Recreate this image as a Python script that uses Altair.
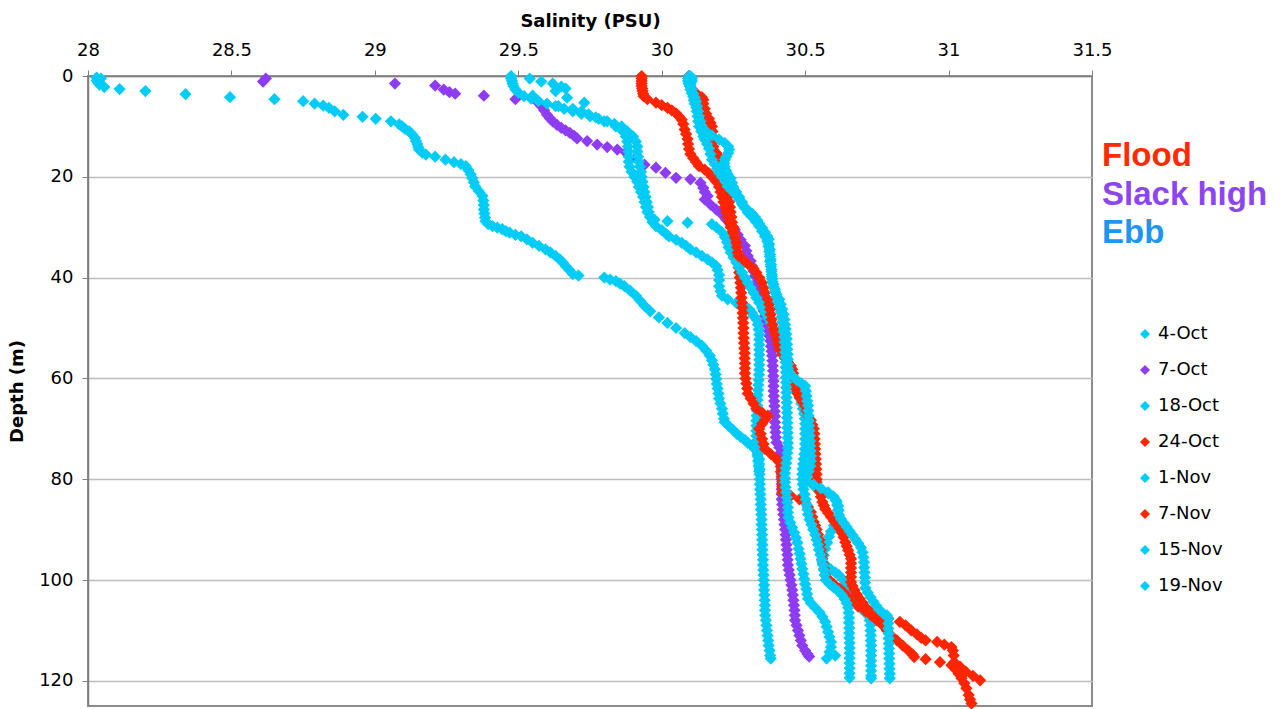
import altair as alt
import pandas as pd

# CTD casts: (depth m, salinity PSU) pairs per survey day
cast_names = ["4-Oct", "7-Oct", "18-Oct", "24-Oct", "1-Nov", "7-Nov", "15-Nov", "19-Nov"]
cast_colors = ["#00CCF5", "#8E3CF2", "#00CCF5", "#FF2500", "#00CCF5", "#FF2500", "#00CCF5", "#00CCF5"]

x_ticks = [28, 28.5, 29, 29.5, 30, 30.5, 31, 31.5]
y_ticks = [0, 20, 40, 60, 80, 100, 120]

tide_labels = ["Flood", "Slack high", "Ebb"]
tide_colors = ["#FF2A00", "#8C46F0", "#1E96F0"]

oct04 = [(0.3,28.03),(0.5,28.045),(0.9,28.03),(1.3,28.035),(1.7,28.04),(2.2,28.057),(2.6,28.11),(3.0,28.20),(3.6,28.34),(4.2,28.495),(4.6,28.65),(5.0,28.75),(5.5,28.79),(5.9,28.82),(6.3,28.84),(7.0,28.86),(7.7,28.89),(8.1,28.957),(8.5,29.003),(9.0,29.056),(9.6,29.085),(10.0,29.095),(10.5,29.105),(11.0,29.12),(11.6,29.13),(12.3,29.14),(12.9,29.143),(13.5,29.148),(14.1,29.151),(14.6,29.154),(15.2,29.165),(15.6,29.178),(16.0,29.21),(16.6,29.246),(17.1,29.276),(17.5,29.30),(17.9,29.317),(18.7,29.326),(19.5,29.334),(20.3,29.34),(21.1,29.345),(21.9,29.35),(22.8,29.362),(23.8,29.375),(24.7,29.378),(25.6,29.38),(26.5,29.38),(27.3,29.382),(28.1,29.384),(28.8,29.386),(29.4,29.395),(29.8,29.41),(30.1,29.427),(30.4,29.444),(30.8,29.457),(31.1,29.47),(31.5,29.49),(31.8,29.51),(32.4,29.53),(33.1,29.55),(33.7,29.572),(34.4,29.595),(35.0,29.612),(35.7,29.63),(36.4,29.645),(37.0,29.655),(37.7,29.665),(38.5,29.678),(39.3,29.69),(39.6,29.71),(40.0,29.80),(40.4,29.82),(40.7,29.84),(41.2,29.855),(41.7,29.87),(42.6,29.89),(43.6,29.91),(44.6,29.925),(45.6,29.94),(46.7,29.96),(47.9,29.99),(49.0,30.02),(50.0,30.05),(51.0,30.08),(51.8,30.10),(52.6,30.12),(53.5,30.14),(54.5,30.155),(55.5,30.168),(56.4,30.175),(57.3,30.18),(58.2,30.185),(59.2,30.188),(60.1,30.19),(61.1,30.192),(62.0,30.195),(63.0,30.198),(64.0,30.20),(65.0,30.205),(66.0,30.21),(67.0,30.213),(68.0,30.217),(68.7,30.22),(69.5,30.235),(70.3,30.25),(71.0,30.262),(71.6,30.275),(72.2,30.29),(72.8,30.30),(73.4,30.315),(74.0,30.325),(75.0,30.335),(76.0,30.34),(77,30.34),(78,30.341),(79,30.341),(80,30.342),(81,30.342),(82,30.343),(83,30.344),(84,30.345),(85,30.345),(86,30.346),(87,30.347),(88,30.348),(89,30.348),(90,30.349),(91,30.35),(92,30.35),(93,30.351),(94,30.351),(95,30.352),(96,30.353),(97,30.353),(98,30.354),(99,30.355),(100,30.356),(101,30.357),(102,30.357),(103,30.358),(104,30.359),(105,30.36),(106,30.36),(107,30.361),(108,30.363),(109,30.365),(110,30.367),(111,30.369),(112,30.371),(113,30.373),(114,30.376),(115,30.378),(115.6,30.38)]

oct07 = [(0.5,28.62),(1.1,28.61),(1.5,29.07),(1.9,29.21),(2.7,29.24),(3.2,29.26),(3.5,29.28),(3.9,29.38),(4.6,29.49),(4.8,29.56),(5.4,29.575),(6.0,29.58),(6.8,29.59),(7.7,29.60),(8.4,29.61),(9.0,29.62),(9.7,29.635),(10.3,29.65),(10.8,29.665),(11.3,29.68),(11.9,29.695),(12.4,29.705),(12.9,29.74),(13.6,29.775),(14.1,29.81),(14.6,29.845),(15.2,29.875),(16.2,29.91),(17.6,29.94),(18.2,29.98),(19.2,30.013),(20.2,30.05),(20.5,30.10),(21.2,30.135),(22.2,30.145),(23.0,30.15),(23.8,30.16),(24.5,30.15),(25.5,30.17),(26.5,30.19),(27.5,30.21),(28.5,30.225),(29.5,30.24),(30.5,30.255),(31.5,30.265),(32.5,30.275),(33.7,30.29),(34.7,30.295),(35.7,30.30),(36.7,30.31),(37.7,30.315),(38.7,30.32),(39.7,30.325),(41.0,30.33),(42.3,30.335),(43.6,30.34),(44.6,30.345),(45.6,30.35),(46.6,30.355),(47.6,30.36),(48.6,30.365),(49.6,30.37),(50.6,30.373),(51.6,30.376),(52.6,30.379),(53.6,30.381),(54.6,30.383),(55.5,30.385),(56.5,30.386),(57.5,30.387),(58.5,30.388),(59.5,30.389),(60.5,30.39),(61.5,30.39),(62.5,30.39),(63.5,30.391),(64.5,30.392),(65.5,30.393),(66.5,30.394),(67.5,30.395),(68.7,30.395),(69.7,30.396),(70.7,30.397),(71.7,30.398),(72.7,30.40),(73.7,30.41),(74.7,30.415),(75.7,30.418),(77,30.418),(78,30.418),(79,30.418),(80,30.418),(81,30.418),(82,30.418),(83,30.418),(84,30.418),(85,30.42),(86,30.422),(87,30.424),(88,30.426),(89,30.428),(90,30.43),(91,30.432),(92,30.433),(93,30.435),(94,30.436),(95,30.438),(96,30.439),(97,30.44),(98,30.443),(99,30.446),(100,30.449),(101,30.452),(102,30.455),(103,30.457),(104,30.459),(105,30.461),(106,30.463),(107,30.464),(108,30.465),(109,30.47),(110,30.475),(111,30.48),(112,30.485),(113,30.49),(114,30.50),(114.7,30.508),(115.2,30.514)]

oct18 = [(0.0,29.475),(0.5,29.475),(1.0,29.478),(1.5,29.48),(2.0,29.483),(2.7,29.49),(3.3,29.50),(4.0,29.52),(4.5,29.545),(5.0,29.57),(5.5,29.60),(6.0,29.63),(6.5,29.66),(7.0,29.69),(7.5,29.72),(8.0,29.75),(8.5,29.78),(9.0,29.81),(9.5,29.835),(10.0,29.86),(11.0,29.88),(12.0,29.90),(13.0,29.91),(14.0,29.915),(15.0,29.915),(16.0,29.918),(17.0,29.92),(18.0,29.924),(19.0,29.928),(20.0,29.93),(21.0,29.933),(22.0,29.937),(23.0,29.94),(24.0,29.944),(25.0,29.948),(26.0,29.952),(27.0,29.955),(28.0,29.96),(29.0,29.968),(29.8,29.98),(30.6,30.0),(31.3,30.015),(31.8,30.025),(32.5,30.05),(33.1,30.07),(33.7,30.085),(34.4,30.10),(35.0,30.12),(35.7,30.14),(36.4,30.16),(37.0,30.175),(37.7,30.19),(38.5,30.195),(39.5,30.20),(40.5,30.20),(41.7,30.20),(42.7,30.205),(43.6,30.21),(44.3,30.23),(45.0,30.26),(45.6,30.29),(46.3,30.305),(47.0,30.315),(47.6,30.32),(48.3,30.33),(49.3,30.335),(50.3,30.338),(51.3,30.34),(52.3,30.34),(53.3,30.34),(54.3,30.34),(55.3,30.34),(56.3,30.34),(57.3,30.34),(58.3,30.34),(59.3,30.339),(60.3,30.338),(61.3,30.337),(62.3,30.336),(63.3,30.335),(64.3,30.334),(65.4,30.333),(66.4,30.332),(67.4,30.331),(68.4,30.33),(69.4,30.33),(70.4,30.33),(71.4,30.33),(72.4,30.33),(73.4,30.331),(74.4,30.332),(75.4,30.334),(76.4,30.336),(77.4,30.338),(78.4,30.34),(80.6,30.505),(81.3,30.53),(82.0,30.556),(82.8,30.58),(83.6,30.60),(84.4,30.61),(85.3,30.615),(86.2,30.617),(87.2,30.617),(88.2,30.61),(89.2,30.60),(90.4,30.59),(91.4,30.583),(92.6,30.577),(93.8,30.57),(95.1,30.565),(96.4,30.56),(97.2,30.575),(97.9,30.59),(98.5,30.605),(99.0,30.617),(99.8,30.63),(100.8,30.643),(101.8,30.655),(102.8,30.665),(103.9,30.676),(105.0,30.686),(105.9,30.70),(106.5,30.71),(107.0,30.72),(108,30.725),(109,30.727),(110,30.728),(111,30.729),(112,30.729),(113,30.73),(114,30.73),(115,30.73),(116,30.73),(117,30.73),(118,30.73),(119,30.73),(119.5,30.73)]

oct24 = [(0,29.93),(0.5,29.93),(1,29.93),(1.5,29.93),(2,29.93),(2.5,29.932),(3,29.933),(3.5,29.935),(4,29.937),(4.6,29.95),(5.3,29.98),(5.8,30.0),(6.3,30.02),(6.8,30.035),(7.4,30.05),(8,30.06),(8.7,30.07),(9.5,30.075),(10.6,30.08),(11.5,30.085),(12.5,30.09),(13.5,30.092),(14.5,30.095),(15.5,30.10),(16.3,30.11),(17.1,30.12),(17.9,30.13),(18.6,30.15),(19.3,30.165),(20,30.175),(21,30.19),(22,30.20),(23,30.205),(24,30.21),(25,30.215),(26,30.22),(27,30.225),(28,30.23),(29,30.235),(30,30.24),(31,30.245),(32,30.25),(33,30.255),(34,30.26),(35,30.263),(36,30.265),(37,30.267),(38,30.268),(39,30.27),(40,30.272),(41,30.274),(42,30.276),(43,30.277),(44,30.278),(45,30.28),(46,30.281),(47,30.282),(48,30.283),(49,30.284),(50,30.285),(51,30.285),(52,30.286),(53,30.287),(54,30.288),(55,30.289),(56,30.289),(57,30.29),(58,30.29),(59,30.29),(60,30.292),(61,30.295),(62,30.298),(63,30.30),(64,30.31),(65,30.32),(66,30.33),(66.8,30.35),(67.4,30.37),(68.2,30.36),(69,30.35),(70,30.34),(71,30.345),(72,30.35),(73,30.355),(74,30.36),(75,30.38),(76,30.40),(76.6,30.41),(77.5,30.415),(78.5,30.415),(79.5,30.418),(80.5,30.42),(81.5,30.42),(82.6,30.42),(83.3,30.45),(84,30.48),(84.6,30.50),(85.5,30.51),(86.5,30.52),(87.5,30.525),(88.5,30.53),(89.2,30.535),(90,30.54),(91,30.545),(92,30.55),(93,30.552),(94,30.555),(95,30.558),(95.8,30.56),(96.8,30.563),(97.8,30.566),(99,30.57),(100,30.585),(100.8,30.60),(101.7,30.62),(102.5,30.635),(103.4,30.65),(104.4,30.66),(105.3,30.685),(106.2,30.71),(107,30.73),(108,30.75),(109,30.77),(110,30.785),(111,30.80),(112,30.82),(113,30.84),(114,30.86),(114.8,30.875),(115.3,30.88),(115.7,30.92),(116.3,30.97),(116.9,31.01),(117.8,31.025),(118.6,31.035),(119.5,31.045),(120.5,31.055),(121.5,31.062),(122.8,31.07),(123.7,31.075),(124.5,31.08)]

nov01 = [(0.5,29.54),(1.1,29.58),(1.5,29.62),(2.1,29.65),(2.5,29.665),(3.0,29.63),(3.9,29.55),(4.3,29.67),(5.3,29.73),(6.0,29.64),(6.5,29.69),(7.0,29.72),(7.6,29.745),(8.2,29.77),(9.0,29.80),(10.0,29.84),(11.0,29.865),(12.0,29.875),(13.0,29.88),(14.0,29.882),(15.0,29.884),(16.0,29.885),(17.0,29.885),(18.0,29.888),(19.0,29.895),(20.0,29.905),(21.0,29.915),(22.0,29.92),(23.0,29.928),(24.0,29.935),(25.0,29.94),(26.0,29.945),(27.0,29.95),(28.0,29.96),(28.5,29.975),(28.8,30.02),(29.1,30.09),(29.4,30.175),(30.0,30.19),(31.0,30.21),(32.0,30.22),(33.0,30.228),(34.0,30.233),(35.0,30.24),(36.0,30.25),(37.0,30.26),(38.0,30.27),(39.0,30.28),(40.0,30.29),(41.0,30.30),(42.0,30.31),(43.0,30.32),(44.0,30.33),(45.0,30.34),(46.0,30.35),(47.0,30.36),(48.0,30.37),(49.0,30.38),(50.0,30.39),(51.0,30.40),(52.0,30.405),(53.0,30.41),(54.0,30.415),(55.0,30.42),(56.0,30.43),(57.0,30.44),(58.0,30.45),(59.0,30.458),(60.0,30.462),(61.0,30.467),(62.0,30.472),(63.0,30.477),(64.0,30.482),(65.0,30.487),(66.0,30.492),(67.0,30.496),(68.0,30.499),(69.0,30.50),(70.0,30.50),(71.0,30.50),(72.0,30.50),(73.0,30.50),(74.0,30.499),(75.0,30.497),(76.0,30.495),(77.0,30.493),(78.0,30.491),(79.0,30.49),(80.0,30.49),(81.0,30.491),(82.0,30.494),(83.0,30.498),(84.0,30.502),(85.0,30.505),(86.0,30.508),(87.0,30.51),(88.0,30.515),(89.0,30.522),(90.0,30.528),(91.0,30.535),(92.0,30.54),(93.0,30.545),(94.0,30.548),(95.0,30.553),(96.0,30.558),(97.0,30.562),(98.0,30.565),(99.0,30.568),(100.0,30.572),(100.8,30.585),(101.5,30.60),(102.2,30.615),(103.0,30.628),(103.8,30.638),(104.6,30.645),(105.5,30.65),(106.5,30.652),(107.5,30.653),(108.5,30.653),(109.5,30.654),(110.5,30.654),(111.5,30.654),(112.5,30.655),(113.5,30.655),(114.5,30.655),(115.5,30.655),(116.5,30.655),(117.5,30.655),(118.5,30.655),(119.4,30.655)]

nov07 = [(0,30.094),(0.5,30.095),(1,30.096),(1.5,30.098),(2,30.10),(2.7,30.105),(3.4,30.12),(4.2,30.14),(4.7,30.145),(5.5,30.145),(6.5,30.15),(7.5,30.155),(8.5,30.165),(9.3,30.17),(10,30.175),(11,30.177),(12,30.178),(13,30.18),(14,30.18),(14.6,30.18),(15.3,30.19),(16,30.20),(17,30.205),(18,30.21),(19,30.212),(20,30.215),(21,30.218),(22,30.22),(23,30.225),(24,30.23),(25,30.235),(26,30.238),(27,30.24),(28,30.243),(29,30.245),(30,30.25),(31,30.253),(32,30.256),(33,30.26),(34,30.263),(35,30.265),(35.7,30.268),(36.5,30.285),(37.3,30.30),(38.2,30.32),(39,30.33),(40,30.34),(41,30.35),(42,30.355),(43,30.36),(44.3,30.37),(45.3,30.375),(46.3,30.378),(47.3,30.38),(48.3,30.383),(49.3,30.386),(50.2,30.39),(51.2,30.395),(52.2,30.40),(53.2,30.405),(54.2,30.41),(55.2,30.42),(56,30.43),(56.8,30.44),(57.5,30.45),(58.2,30.455),(59,30.458),(60,30.46),(61,30.463),(62,30.466),(62.8,30.47),(63.7,30.48),(64.6,30.49),(65.5,30.50),(66.4,30.505),(67.4,30.51),(68.3,30.52),(69.2,30.525),(70,30.53),(71,30.532),(72,30.533),(73,30.534),(74,30.535),(75,30.536),(76,30.537),(77,30.538),(78,30.539),(79,30.54),(80,30.54),(80.6,30.54),(81.5,30.545),(82.5,30.55),(83.5,30.555),(84.5,30.56),(85.2,30.565),(85.9,30.57),(86.7,30.58),(87.5,30.59),(88.3,30.60),(89,30.61),(89.8,30.62),(90.6,30.627),(91.5,30.634),(92.5,30.64),(93.3,30.645),(94.1,30.65),(95,30.655),(95.8,30.66),(96.7,30.66),(97.6,30.66),(98.5,30.66),(99.4,30.66),(100.4,30.66),(101.2,30.665),(102,30.672),(102.9,30.68),(103.7,30.69),(104.5,30.70),(105.3,30.71),(106.3,30.73),(106.8,30.75),(107.3,30.77),(107.7,30.79),(108.3,30.83),(109,30.85),(110,30.87),(110.8,30.89),(111.5,30.905),(112,30.92),(112.3,30.96),(112.8,30.985),(113.3,31.01),(114,31.015),(115,31.018),(116.3,31.02),(117.2,31.04),(118.2,31.06),(119,31.085),(119.9,31.11)]

nov15 = [(0.0,30.095),(0.5,30.092),(1.0,30.092),(1.5,30.094),(2.0,30.097),(2.7,30.10),(3.4,30.105),(4.1,30.11),(4.8,30.112),(5.5,30.115),(6.2,30.12),(7.0,30.122),(8.0,30.125),(9.0,30.127),(10.0,30.13),(11.0,30.138),(12.0,30.145),(12.6,30.15),(13.5,30.158),(14.4,30.165),(15.5,30.17),(16.6,30.175),(17.5,30.185),(18.4,30.193),(19.2,30.20),(20.0,30.21),(21.0,30.222),(21.9,30.23),(22.8,30.245),(23.7,30.26),(24.5,30.27),(25.4,30.28),(26.2,30.29),(27.1,30.30),(28.0,30.315),(28.9,30.328),(29.8,30.34),(30.8,30.35),(31.8,30.36),(32.8,30.368),(33.8,30.372),(34.8,30.375),(35.8,30.377),(36.8,30.378),(37.8,30.38),(38.8,30.382),(39.8,30.384),(40.8,30.386),(41.8,30.39),(42.8,30.395),(43.8,30.40),(44.8,30.405),(45.8,30.41),(46.8,30.415),(47.8,30.418),(48.8,30.42),(49.8,30.423),(50.8,30.425),(51.8,30.427),(52.8,30.428),(53.8,30.43),(54.8,30.43),(55.8,30.431),(56.8,30.432),(57.8,30.432),(58.8,30.433),(59.8,30.433),(60.8,30.434),(61.8,30.434),(62.8,30.435),(63.8,30.435),(64.8,30.436),(65.8,30.436),(66.8,30.437),(67.8,30.437),(68.8,30.438),(69.8,30.438),(70.8,30.439),(71.8,30.439),(72.8,30.44),(73.8,30.44),(74.8,30.438),(75.8,30.436),(76.8,30.434),(77.8,30.432),(78.8,30.43),(79.8,30.43),(80.6,30.43),(81.6,30.432),(82.6,30.434),(83.6,30.436),(84.6,30.438),(85.6,30.44),(86.6,30.44),(87.6,30.442),(88.6,30.448),(89.6,30.455),(90.6,30.462),(91.6,30.468),(92.6,30.473),(93.8,30.477),(94.8,30.481),(95.8,30.484),(96.8,30.487),(97.8,30.49),(98.8,30.494),(99.8,30.497),(100.8,30.50),(101.8,30.504),(102.8,30.507),(103.7,30.51),(104.6,30.52),(105.5,30.535),(106.4,30.55),(107.3,30.56),(108.3,30.57),(109.3,30.575),(110.3,30.58),(111.3,30.585),(112.3,30.59),(113.3,30.59),(114.3,30.585),(115.0,30.605),(115.6,30.575)]

nov19 = [(0.0,30.10),(0.5,30.105),(1.0,30.105),(1.5,30.10),(2.0,30.10),(2.7,30.105),(3.5,30.11),(4.3,30.115),(5.0,30.12),(6.0,30.123),(7.0,30.127),(8.0,30.13),(9.0,30.135),(10.0,30.14),(11.0,30.155),(11.8,30.175),(12.6,30.20),(13.3,30.22),(14.0,30.232),(14.6,30.235),(15.3,30.232),(16.0,30.225),(16.6,30.22),(17.3,30.218),(18.0,30.22),(18.8,30.225),(19.5,30.23),(20.3,30.24),(21.2,30.245),(22.0,30.25),(23.0,30.26),(24.0,30.27),(25.0,30.28),(25.8,30.285),(26.6,30.30),(27.3,30.315),(28.0,30.325),(28.6,30.333),(29.3,30.34),(30.1,30.35),(31.0,30.36),(31.8,30.368),(32.4,30.373),(33.4,30.375),(34.4,30.377),(35.4,30.378),(36.4,30.38),(37.4,30.381),(38.4,30.383),(39.4,30.384),(40.3,30.385),(41.3,30.39),(42.3,30.395),(43.3,30.40),(44.3,30.41),(45.3,30.415),(46.3,30.42),(47.3,30.425),(48.3,30.428),(49.3,30.43),(50.2,30.432),(51.2,30.434),(52.2,30.436),(53.2,30.437),(54.2,30.438),(55.2,30.439),(56.2,30.44),(57.2,30.44),(58.0,30.44),(58.8,30.445),(59.6,30.458),(60.4,30.472),(61.0,30.487),(61.5,30.50),(62.5,30.503),(63.5,30.505),(64.5,30.507),(65.4,30.51),(66.4,30.511),(67.4,30.512),(68.4,30.513),(69.4,30.514),(70.4,30.515),(71.4,30.516),(72.4,30.517),(73.4,30.518),(74.4,30.519),(75.4,30.52),(76.4,30.52),(77.4,30.518),(78.4,30.513),(79.4,30.507),(80.4,30.505),(81.1,30.53),(81.8,30.555),(82.6,30.58),(83.4,30.598),(84.2,30.607),(85.1,30.612),(86.1,30.615),(87.1,30.618),(87.9,30.625),(88.7,30.635),(89.5,30.645),(90.3,30.655),(91.1,30.665),(91.9,30.675),(92.7,30.685),(93.6,30.695),(94.5,30.70),(95.5,30.703),(96.5,30.705),(97.5,30.706),(98.5,30.707),(99.5,30.708),(100.5,30.709),(101.6,30.71),(102.5,30.718),(103.4,30.728),(104.3,30.738),(105.1,30.748),(105.9,30.758),(106.5,30.77),(107.0,30.785),(107.6,30.79),(108.6,30.79),(109.6,30.79),(110.6,30.791),(111.6,30.791),(112.6,30.792),(113.6,30.792),(114.6,30.793),(115.6,30.793),(116.6,30.794),(117.6,30.794),(118.6,30.795),(119.5,30.795)]

casts = [oct04, oct07, oct18, oct24, nov01, nov07, nov15, nov19]

rows = []
for name, cast in zip(cast_names, casts):
    for depth, psu in cast:
        rows.append({"cast": name, "depth": depth, "psu": psu})
profiles = pd.DataFrame(rows)

FONT = "DejaVu Sans"

points = alt.Chart(profiles).mark_point(
    shape="diamond", filled=True, size=150, opacity=1, strokeWidth=0
).encode(
    x=alt.X(
        "psu:Q",
        scale=alt.Scale(domain=[28, 31.5], nice=False, zero=False),
        axis=alt.Axis(
            orient="top", values=x_ticks, format="~g", title="Salinity (PSU)",
            grid=False, labelFlush=False, labelPadding=11, titlePadding=11,
        ),
    ),
    y=alt.Y(
        "depth:Q",
        scale=alt.Scale(domain=[0, 125], reverse=True, nice=False, zero=False),
        axis=alt.Axis(
            values=y_ticks, title="Depth (m)", grid=True, labelFlush=False,
            labelPadding=9, titlePadding=12,
        ),
    ),
    color=alt.Color(
        "cast:N",
        scale=alt.Scale(domain=cast_names, range=cast_colors),
        legend=alt.Legend(
            title=None, orient="none", legendX=1048, legendY=249,
            symbolType="diamond", symbolSize=100, symbolStrokeWidth=0,
            labelFont=FONT, labelFontSize=18, labelColor="#000000",
            labelOffset=4, rowPadding=18, padding=0,
        ),
    ),
)

tide_text = []
for i, (label, color) in enumerate(zip(tide_labels, tide_colors)):
    tide_text.append(
        alt.Chart(pd.DataFrame({"label": [label]})).mark_text(
            align="left", baseline="alphabetic", font="Liberation Sans",
            fontWeight="bold", fontSize=33, color=color,
        ).encode(
            text="label:N",
            x=alt.value(1014),
            y=alt.value(90 + 38.6 * i),
        )
    )

chart = alt.layer(points, *tide_text).properties(
    width=1004,
    height=630,
    padding={"left": 88, "top": 76, "right": 194, "bottom": 3},
    autosize=alt.AutoSizeParams(type="none"),
).configure_view(
    stroke="#8c8c8c", strokeWidth=2
).configure_axis(
    labelFont=FONT, labelFontSize=18, labelColor="#000000",
    titleFont=FONT, titleFontSize=18, titleFontWeight="bold", titleColor="#000000",
    tickColor="#7f7f7f", tickSize=6, tickWidth=1,
    domainColor="#7f7f7f", domainWidth=1.5,
    gridColor="#bdbdbd", gridWidth=1.5,
)

chart.save("out.html", embed_options={"renderer": "svg", "actions": False})
